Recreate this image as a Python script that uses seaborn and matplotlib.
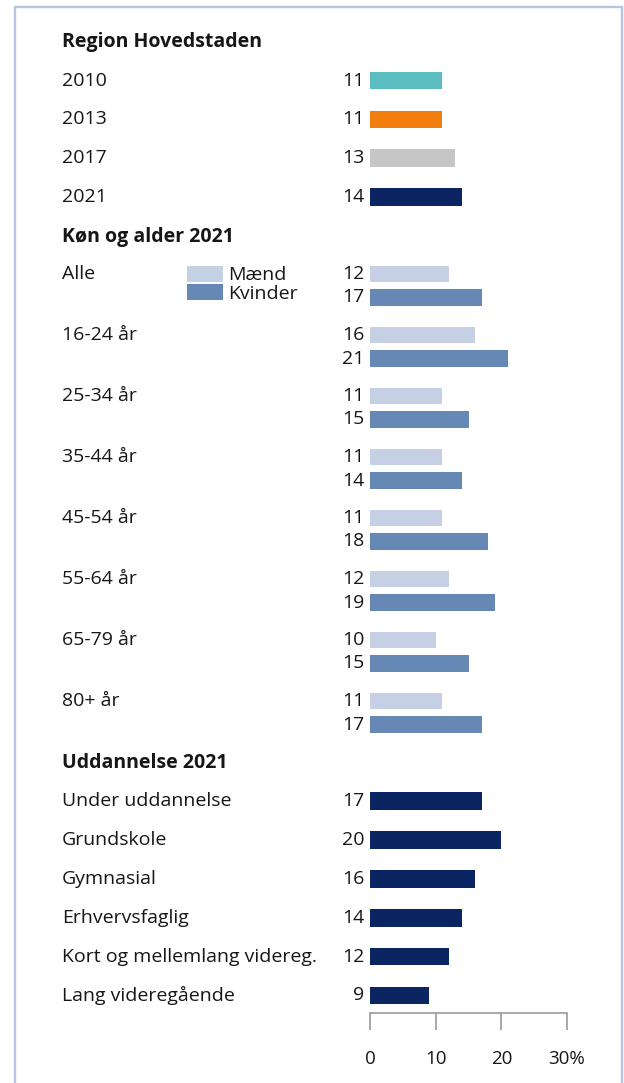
import matplotlib
matplotlib.use("Agg")
import matplotlib.pyplot as plt
import matplotlib.transforms as mtransforms
from matplotlib.patches import Patch, Rectangle
import seaborn as sns
import pandas as pd

# ---- data -------------------------------------------------------------
years = ["2010", "2013", "2017", "2021"]
year_values = [11, 11, 13, 14]

age_groups = ["Alle", "16-24 år", "25-34 år", "35-44 år", "45-54 år",
              "55-64 år", "65-79 år", "80+ år"]
men_values = [12, 16, 11, 11, 11, 12, 10, 11]
women_values = [17, 21, 15, 14, 18, 19, 15, 17]

education = ["Under uddannelse", "Grundskole", "Gymnasial", "Erhvervsfaglig",
             "Kort og mellemlang videreg.", "Lang videregående"]
edu_values = [17, 20, 16, 14, 12, 9]

section_titles = ["Region Hovedstaden", "Køn og alder 2021", "Uddannelse 2021"]
gender_labels = ["Mænd", "Kvinder"]
x_ticks = [0, 10, 20, 30]
x_ticklabels = ["0", "10", "20", "30%"]

# ---- style ------------------------------------------------------------
sns.set_style("white")
plt.rcParams["font.family"] = ["Open Sans", "DejaVu Sans"]
FS = 14
TXT = "#161616"

year_colors = ["#5bbdc0", "#f07d0c", "#c6c6c6", "#0b2462"]
gender_colors = {"Mænd": "#c6d0e4", "Kvinder": "#6688b5"}
edu_color = "#0b2462"

W, H = 624, 1083
fig = plt.figure(figsize=(W / 100, H / 100), dpi=100)

# axes in pixel-like vertical units: x 0..30 spans px 370..567
ax_left, ax_right = 370, 567
ax_top, ax_bottom = 18, 1013
ax = fig.add_axes([ax_left / W, 1 - ax_bottom / H,
                   (ax_right - ax_left) / W, (ax_bottom - ax_top) / H])

# row layout (vertical positions, px)
year_rows = [80.5, 119.5, 158, 197]
age_rows_m = [274, 335, 396, 457, 518, 579, 640, 701]
gap_mk = 23.5
age_rows_k = [r + gap_mk for r in age_rows_m]
edu_rows = [801, 840, 879, 918, 956.5, 995.5]
title_rows = [42, 237, 763]

bar_px = 17.5

# years
df_y = pd.DataFrame({"val": year_values, "pos": year_rows, "lab": years})
sns.barplot(data=df_y, x="val", y="pos", hue="lab", palette=year_colors,
            orient="h", native_scale=True, dodge=False, legend=False,
            width=bar_px / (year_rows[1] - year_rows[0]), ax=ax,
            linewidth=0, saturation=1)

# gender by age
df_g = pd.DataFrame({
    "val": men_values + women_values,
    "pos": age_rows_m + age_rows_k,
    "sex": ["Mænd"] * len(men_values) + ["Kvinder"] * len(women_values),
})
sns.barplot(data=df_g, x="val", y="pos", hue="sex", hue_order=gender_labels,
            palette=gender_colors, orient="h", native_scale=True, dodge=False,
            legend=False, width=16.5 / gap_mk, ax=ax, linewidth=0,
            saturation=1)

# education
df_e = pd.DataFrame({"val": edu_values, "pos": edu_rows})
sns.barplot(data=df_e, x="val", y="pos", color=edu_color, orient="h",
            native_scale=True, width=bar_px / (edu_rows[1] - edu_rows[0]),
            ax=ax, linewidth=0, saturation=1)

ax.set_xlim(0, 30)
ax.set_ylim(ax_bottom, ax_top)

# value labels left of each bar
for v, p in list(zip(year_values, year_rows)) + \
        list(zip(men_values + women_values, age_rows_m + age_rows_k)) + \
        list(zip(edu_values, edu_rows)):
    ax.annotate(f"{v}", xy=(0, p), xytext=(-4, 0), textcoords="offset points",
                ha="right", va="center", fontsize=FS, color=TXT)

# category labels on the left
lab_tr = mtransforms.blended_transform_factory(fig.transFigure, ax.transData)
xl = 62 / W
for lab, p in list(zip(years, year_rows)) + list(zip(age_groups, age_rows_m)) + \
        list(zip(education, edu_rows)):
    ax.text(xl, p, lab, transform=lab_tr, ha="left", va="center",
            fontsize=FS, color=TXT, clip_on=False)
for t, p in zip(section_titles, title_rows):
    ax.text(xl, p, t, transform=lab_tr, ha="left", va="center",
            fontsize=FS, fontweight="bold", color=TXT, clip_on=False)

# legend for gender
handles = [Patch(facecolor=gender_colors[g], edgecolor="none") for g in gender_labels]
leg = fig.legend(handles, gender_labels, loc="upper left",
                 bbox_to_anchor=(187 / W, 1 - 266 / H), frameon=False,
                 fontsize=FS, handlelength=1.85, handleheight=0.85,
                 handletextpad=0.25, labelspacing=0.0, borderpad=0.0,
                 borderaxespad=0.0)
for t in leg.get_texts():
    t.set_color(TXT)

# axis styling
sns.despine(ax=ax, left=True, top=True, right=True, bottom=False)
ax.spines["bottom"].set_color("#9a9a9a")
ax.spines["bottom"].set_linewidth(1.2)
ax.set_yticks([])
ax.set_xticks(x_ticks)
ax.set_xticklabels(x_ticklabels)
ax.tick_params(axis="x", direction="out", length=12.5, width=1.2,
               color="#9a9a9a", pad=14, labelsize=FS - 0.5, labelcolor=TXT,
               bottom=True)
ax.set_xlabel("")
ax.set_ylabel("")

# outer frame
fig.patches.append(Rectangle((15.5 / W, -0.01), (621.5 - 15.5) / W,
                             1 - 6.5 / H + 0.01, transform=fig.transFigure,
                             fill=False, edgecolor="#b8c5dc", linewidth=1.7))

fig.savefig("out.png", dpi=100, facecolor="white")
